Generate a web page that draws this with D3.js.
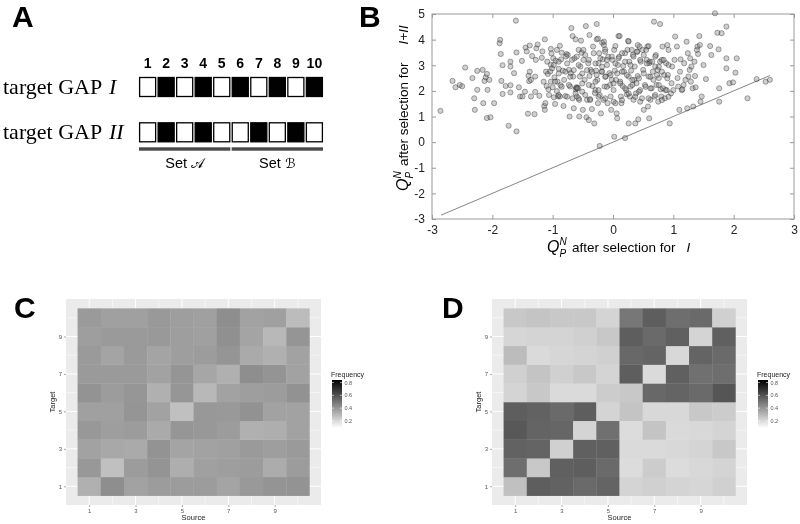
<!DOCTYPE html>
<html><head><meta charset="utf-8">
<script src="https://cdn.jsdelivr.net/npm/d3@7"></script>
<style>body{margin:0;background:#fff}svg{display:block;will-change:opacity;opacity:0.999}</style>
</head><body>
<svg id="fig" width="800" height="524"></svg>
<script>
// ---------- DATA ----------
const genes = ["1","2","3","4","5","6","7","8","9","10"];
const gapI  = [0,1,0,1,0,1,0,1,0,1];
const gapII = [0,1,0,1,0,0,1,0,1,0];
const sets = [{name:"Set ", script:"\uD835\uDC9C", from:"1", to:"5"}, {name:"Set ", script:"\u212C", from:"6", to:"10"}];

const bTicks = [-3,-2,-1,0,1,2,3];
const bYTicks = [-3,-2,-1,0,1,2,3,4,5];
const scatterX = [-2.86,-2.66,-2.61,-2.54,-2.50,-2.45,-2.33,-2.29,-2.30,-2.25,-2.25,-2.16,-2.15,-2.13,-2.11,-2.09,-2.08,-2.09,-2.03,-2.05,-1.97,-1.88,-1.87,-1.86,-1.83,-1.85,-1.83,-1.78,-1.73,-1.70,-1.70,-1.70,-1.70,-1.64,-1.61,-1.60,-1.60,-1.56,-1.54,-1.51,-1.50,-1.46,-1.45,-1.43,-1.41,-1.40,-1.39,-1.38,-1.38,-1.36,-1.36,-1.34,-1.30,-1.29,-1.29,-1.27,-1.28,-1.25,-1.22,-1.18,-1.17,-1.15,-1.14,-1.13,-1.13,-1.12,-1.11,-1.10,-1.09,-1.08,-1.07,-1.06,-1.04,-1.03,-1.03,-1.03,-1.02,-1.01,-1.00,-0.99,-0.98,-0.97,-0.96,-0.95,-0.93,-0.92,-0.91,-0.90,-0.88,-0.88,-0.87,-0.86,-0.83,-0.82,-0.81,-0.79,-0.77,-0.75,-0.73,-0.72,-0.71,-0.70,-0.69,-0.67,-0.67,-0.66,-0.65,-0.64,-0.62,-0.62,-0.61,-0.60,-0.59,-0.58,-0.57,-0.56,-0.56,-0.55,-0.54,-0.52,-0.51,-0.50,-0.49,-0.47,-0.45,-0.44,-0.43,-0.41,-0.40,-0.39,-0.39,-0.38,-0.37,-0.35,-0.34,-0.33,-0.31,-0.30,-0.29,-0.28,-0.27,-0.27,-0.26,-0.25,-0.24,-0.23,-0.22,-0.20,-0.19,-0.18,-0.17,-0.16,-0.15,-0.14,-0.13,-0.12,-0.10,-0.09,-0.08,-0.06,-0.05,-0.04,-0.03,-0.02,-0.01,0.01,0.02,0.03,0.04,0.05,0.06,0.07,0.08,0.09,0.10,0.12,0.13,0.14,0.16,0.17,0.18,0.20,0.22,0.23,0.24,0.25,0.26,0.26,0.27,0.28,0.29,0.30,0.31,0.33,0.34,0.35,0.36,0.37,0.38,0.39,0.40,0.41,0.42,0.44,0.45,0.46,0.48,0.49,0.50,0.51,0.53,0.55,0.56,0.57,0.58,0.59,0.60,0.60,0.61,0.62,0.64,0.66,0.67,0.68,0.69,0.70,0.71,0.72,0.74,0.75,0.76,0.78,0.78,0.79,0.80,0.81,0.82,0.83,0.85,0.86,0.88,0.89,0.91,0.92,0.94,0.96,0.97,0.98,1.00,1.02,1.03,1.06,1.07,1.08,1.10,1.11,1.12,1.14,1.15,1.17,1.18,1.20,1.22,1.23,1.24,1.25,1.27,1.28,1.29,1.30,1.32,1.33,1.35,1.36,1.37,1.39,1.40,1.41,1.43,1.44,1.45,1.47,1.50,1.54,1.61,1.63,1.69,1.73,1.75,1.76,1.76,1.80,1.88,1.88,1.88,1.93,1.99,2.03,2.05,2.23,2.38,2.53,2.60,-0.22,0.02,0.20,
-0.93,-0.85,-0.78,-0.90,-0.98,-0.76,-0.68,-0.60,-0.57,-0.49,-0.46,-0.40,-0.32,-0.29,-0.21,-0.18,-0.13,-0.10,-0.02,0.04,0.09,0.15,0.20,0.29,0.34,0.40,0.45,0.51,0.56,0.65,0.70,0.76,0.84,0.92,-0.90,-0.79,-0.71,-0.65,-0.51,-0.43,-0.35,-0.27,-0.18,-0.13,-0.04,0.07,0.15,0.23,0.32,0.43,0.51,0.62,0.73,0.81,0.90,-0.96,-0.85,-0.73,-0.60,-0.51,-0.40,-0.29,-0.24,-0.10,0.01,0.12,0.20,0.32,0.43,0.54,0.62,0.76,0.87,-0.90,-0.76,-0.62,-0.57,-0.46,-0.38,-0.24,-0.13,0.01,0.15,0.26,0.37,0.45,0.59,0.70,0.81,0.92,-0.53,-0.25,-0.15,0.04,0.11,0.26,0.41,0.59,0.90];
const scatterY = [1.22,2.39,2.14,2.23,2.18,2.91,2.50,1.26,1.71,2.04,2.78,2.82,1.52,2.39,2.53,2.66,2.04,0.94,0.97,2.43,1.52,3.86,3.99,3.44,3.00,2.39,1.88,2.19,0.64,3.14,2.95,2.22,1.94,2.69,4.74,3.50,0.42,2.14,1.78,3.17,1.78,1.97,3.69,3.54,1.11,2.59,2.38,3.77,2.75,2.43,1.78,3.36,1.09,2.56,1.96,3.66,3.21,3.81,1.81,3.29,3.54,2.36,1.41,1.26,4.01,1.52,2.75,2.19,3.14,2.66,2.06,1.84,2.76,3.64,3.02,2.36,3.46,2.88,2.14,3.27,1.75,2.53,1.49,3.18,1.99,2.36,1.78,2.86,3.76,1.78,2.22,3.23,2.79,1.41,2.43,1.80,3.44,3.40,2.82,1.00,2.17,2.69,4.45,4.14,1.71,2.56,1.32,3.27,4.01,2.06,2.14,1.78,2.13,2.10,3.60,1.65,1.00,2.56,2.95,3.49,1.97,1.26,3.21,2.43,4.53,0.97,1.65,3.08,0.86,2.58,4.18,1.68,2.82,1.29,2.19,3.73,0.73,1.92,2.03,2.79,4.61,4.01,2.43,1.52,3.08,3.47,1.84,1.12,2.75,3.88,3.23,1.65,3.79,2.17,3.62,2.56,3.01,1.52,3.33,2.69,2.23,1.78,1.26,2.43,3.21,2.03,3.60,2.79,1.52,2.43,1.12,0.93,3.01,4.14,3.33,2.36,1.78,1.52,2.19,2.97,2.75,3.47,2.03,1.86,3.60,3.95,2.56,0.73,3.14,1.78,2.17,2.79,3.60,3.40,1.65,2.43,2.95,0.73,1.90,2.30,3.53,2.58,0.89,3.73,2.03,3.14,1.71,3.60,2.82,1.26,2.23,3.60,3.21,3.73,1.39,2.56,3.08,0.93,3.14,1.65,2.10,2.75,2.43,4.70,1.78,2.95,3.40,2.23,2.82,1.58,2.50,4.61,3.14,2.06,1.78,3.21,3.73,2.10,2.62,1.71,3.08,2.03,2.62,3.60,0.73,1.90,2.30,2.95,2.03,3.21,4.12,3.73,2.50,2.17,1.26,2.75,3.23,2.03,2.06,2.23,3.08,2.43,3.92,1.32,3.47,2.56,2.82,3.27,2.36,2.95,2.10,1.39,3.14,2.58,2.14,3.60,3.73,3.44,4.14,3.79,1.58,1.78,3.01,2.46,3.75,3.40,5.03,4.27,3.62,2.10,1.58,4.25,4.51,3.27,2.88,2.30,2.33,2.71,3.27,1.71,2.46,2.36,2.43,-0.15,0.21,0.16,
3.60,3.49,3.34,3.14,3.01,3.07,3.21,3.34,3.01,3.60,3.40,3.21,3.47,3.07,3.27,2.94,3.53,3.21,3.34,3.07,3.27,3.47,3.14,3.01,3.34,3.53,3.21,3.40,3.07,3.14,3.34,2.94,3.21,3.01,2.68,2.75,2.55,2.81,2.68,2.81,2.75,2.62,2.75,2.55,2.62,2.68,2.75,2.62,2.42,2.49,2.68,2.55,2.62,2.75,2.49,2.36,2.16,2.23,2.10,2.29,2.23,2.36,2.03,2.16,2.29,2.29,2.10,2.23,1.97,2.16,2.10,2.23,2.03,1.84,1.77,1.90,1.71,1.84,1.64,1.77,1.71,1.58,1.64,1.90,1.77,1.58,1.71,1.84,1.64,1.77,3.96,4.04,3.92,3.75,4.14,3.93,3.79,3.75,3.79];
const diagLine = [-2.85, 2.6];

const heatTicks = [1,3,5,7,9];
const legendTicks = [0.2,0.4,0.6,0.8];
// rows: Target 1..10 ; columns: Source 1..10
const heatC = [
 [0.322,0.422,0.364,0.381,0.381,0.381,0.358,0.390,0.405,0.408],
 [0.393,0.275,0.381,0.405,0.328,0.369,0.375,0.381,0.334,0.381],
 [0.364,0.346,0.340,0.408,0.358,0.364,0.369,0.387,0.375,0.387],
 [0.393,0.375,0.381,0.340,0.399,0.393,0.381,0.322,0.328,0.364],
 [0.369,0.369,0.402,0.364,0.275,0.393,0.390,0.411,0.364,0.364],
 [0.408,0.381,0.399,0.322,0.399,0.299,0.364,0.375,0.381,0.411],
 [0.387,0.387,0.387,0.364,0.402,0.352,0.322,0.422,0.405,0.364],
 [0.387,0.358,0.387,0.358,0.375,0.381,0.402,0.340,0.322,0.364],
 [0.375,0.387,0.387,0.390,0.375,0.369,0.416,0.358,0.299,0.402],
 [0.387,0.369,0.369,0.390,0.375,0.369,0.422,0.364,0.369,0.287]];
const heatD = [
 [0.275,0.564,0.552,0.528,0.546,0.216,0.228,0.216,0.211,0.228],
 [0.517,0.252,0.558,0.564,0.528,0.193,0.240,0.193,0.205,0.216],
 [0.552,0.546,0.228,0.558,0.558,0.199,0.199,0.205,0.216,0.252],
 [0.581,0.546,0.540,0.216,0.511,0.193,0.264,0.199,0.205,0.216],
 [0.564,0.552,0.528,0.564,0.216,0.264,0.205,0.205,0.252,0.240],
 [0.216,0.252,0.199,0.199,0.240,0.252,0.534,0.546,0.528,0.590],
 [0.228,0.264,0.228,0.252,0.216,0.564,0.199,0.558,0.511,0.517],
 [0.287,0.199,0.211,0.216,0.228,0.534,0.546,0.205,0.546,0.528],
 [0.211,0.216,0.216,0.228,0.252,0.564,0.528,0.558,0.216,0.558],
 [0.252,0.264,0.252,0.252,0.216,0.490,0.564,0.517,0.528,0.228]];

// ---------- DRAW ----------
const svg = d3.select("#fig");
const SANS = "'Liberation Sans', Arial, Helvetica, sans-serif";
const SERIF = "'Liberation Serif', 'Times New Roman', serif";

function panelLabel(t, x, y){
  svg.append("text").attr("x",x).attr("y",y).text(t)
    .attr("font-family",SANS).attr("font-weight","bold").attr("font-size",30).attr("fill","#000");
}
panelLabel("A",12,27); panelLabel("B",359,27); panelLabel("C",14,318); panelLabel("D",442,318);

// ----- Panel A -----
const gA = svg.append("g");
const xb = d3.scaleBand().domain(genes).range([139,323]).paddingInner(0.07);
gA.selectAll("text.num").data(genes).join("text")
  .attr("x",d=>xb(d)+xb.bandwidth()/2).attr("y",68).attr("text-anchor","middle")
  .attr("font-family",SANS).attr("font-weight","bold").attr("font-size",14).text(d=>d);
const rows = [{lab:"I", pat:gapI, y:77.5},{lab:"II", pat:gapII, y:122.8}];
rows.forEach(r=>{
  const t = gA.append("text").attr("x",3).attr("y",r.y+16.5).attr("font-family",SERIF).attr("font-size",22);
  t.append("tspan").text("target GAP ");
  t.append("tspan").attr("font-style","italic").attr("dx",2).text(r.lab);
  gA.selectAll(null).data(genes).join("rect")
    .attr("x",d=>xb(d)+0.6).attr("y",r.y).attr("width",xb.bandwidth()-1.2).attr("height",19)
    .attr("fill",(d,i)=>r.pat[i]?"#000":"#fff").attr("stroke","#000").attr("stroke-width",1.3);
});
sets.forEach(s=>{
  const x0 = xb(s.from), x1 = xb(s.to)+xb.bandwidth();
  gA.append("rect").attr("x",x0).attr("y",147.3).attr("width",x1-x0).attr("height",3.4).attr("fill","#4a4a4a");
  const t = gA.append("text").attr("x",(x0+x1)/2).attr("y",168).attr("text-anchor","middle")
    .attr("font-family",SANS).attr("font-size",14.5);
  t.append("tspan").text(s.name);
  t.append("tspan").attr("font-family","'DejaVu Serif', 'DejaVu Sans', serif").attr("font-size",13.5).text(s.script);
});

// ----- Panel B -----
const bx = d3.scaleLinear().domain([-3,3]).range([432,794]);
const by = d3.scaleLinear().domain([-3,5]).range([219,14]);
const gB = svg.append("g");
gB.append("rect").attr("x",432).attr("y",14).attr("width",362).attr("height",205)
  .attr("fill","none").attr("stroke","#9a9a9a").attr("stroke-width",1);
function styleAxis(g){
  g.select(".domain").remove();
  g.selectAll(".tick line").attr("stroke","#9a9a9a");
  g.selectAll(".tick text").attr("fill","#222").attr("font-family",SANS).attr("font-size",12);
}
const fmt = d => String(d);
gB.append("g").attr("transform","translate(0,219)")
  .call(d3.axisBottom(bx).tickValues(bTicks).tickSize(-4).tickPadding(6).tickFormat(fmt)).call(styleAxis);
gB.append("g").attr("transform","translate(0,14)")
  .call(d3.axisTop(bx).tickValues(bTicks).tickSize(-4).tickFormat("")).call(styleAxis);
gB.append("g").attr("transform","translate(432,0)")
  .call(d3.axisLeft(by).tickValues(bYTicks).tickSize(-4).tickPadding(7).tickFormat(fmt)).call(styleAxis);
gB.append("g").attr("transform","translate(794,0)")
  .call(d3.axisRight(by).tickValues(bYTicks).tickSize(-4).tickFormat("")).call(styleAxis);
gB.append("line").attr("x1",bx(diagLine[0])).attr("y1",by(diagLine[0])).attr("x2",bx(diagLine[1])).attr("y2",by(diagLine[1]))
  .attr("stroke","#777").attr("stroke-width",0.9);
const pts = scatterX.map((x,i)=>[x,scatterY[i]]);
gB.append("g").selectAll("circle").data(pts).join("circle")
  .attr("cx",d=>bx(d[0])).attr("cy",d=>by(d[1])).attr("r",2.6)
  .attr("fill","#7a7a7a").attr("fill-opacity",0.36)
  .attr("stroke","#000").attr("stroke-opacity",0.45).attr("stroke-width",0.7);

function qLabel(parent, tail, fs, gap){
  const g = parent.append("g");
  g.append("text").attr("x",0).attr("y",0).attr("font-family",SANS).attr("font-style","italic").attr("font-size",fs+2.5).text("Q");
  g.append("text").attr("x",12.5).attr("y",-7).attr("font-family",SANS).attr("font-style","italic").attr("font-size",10).text("N");
  g.append("text").attr("x",12.5).attr("y",5).attr("font-family",SANS).attr("font-style","italic").attr("font-size",10).text("P");
  const mid = g.append("text").attr("x",25).attr("y",0).attr("font-family",SANS).attr("font-size",fs).text("after selection for");
  const w = mid.node().getComputedTextLength();
  g.append("text").attr("x",25+w+gap).attr("y",0).attr("font-family",SANS).attr("font-style","italic").attr("font-size",fs).text(tail);
  return g;
}
qLabel(gB,"I",13.5,11).attr("transform","translate(547,252)");
qLabel(gB,"I+II",13.5,18).attr("transform","translate(408,191) rotate(-90)");

// ----- Panels C, D -----
const heatColor = d3.scaleLinear().domain([0.09,0.84]).range(["#ffffff","#000000"]);
function heatPanel(data, dx, gid){
  const g = svg.append("g").attr("transform",`translate(${dx},0)`);
  const hx = d3.scaleLinear().domain([0,11]).range([66,321]);
  const hy = d3.scaleLinear().domain([0,11]).range([505,299]);
  g.append("rect").attr("x",66).attr("y",299).attr("width",255).attr("height",206).attr("fill","#ebebeb");
  const minor = d3.range(2,11,2);
  g.selectAll(null).data(minor).join("line").attr("x1",d=>hx(d)).attr("x2",d=>hx(d)).attr("y1",299).attr("y2",505).attr("stroke","#fff").attr("stroke-width",0.5);
  g.selectAll(null).data(minor).join("line").attr("y1",d=>hy(d)).attr("y2",d=>hy(d)).attr("x1",66).attr("x2",321).attr("stroke","#fff").attr("stroke-width",0.5);
  g.selectAll(null).data(heatTicks).join("line").attr("x1",d=>hx(d)).attr("x2",d=>hx(d)).attr("y1",299).attr("y2",505).attr("stroke","#fff").attr("stroke-width",1);
  g.selectAll(null).data(heatTicks).join("line").attr("y1",d=>hy(d)).attr("y2",d=>hy(d)).attr("x1",66).attr("x2",321).attr("stroke","#fff").attr("stroke-width",1);
  const cells = [];
  data.forEach((row,ti)=>row.forEach((v,si)=>cells.push({t:ti+1,s:si+1,v})));
  g.selectAll("rect.cell").data(cells).join("rect")
    .attr("x",d=>hx(d.s-0.5)).attr("y",d=>hy(d.t+0.5))
    .attr("width",hx(1)-hx(0)+0.3).attr("height",hy(0)-hy(1)+0.3)
    .attr("fill",d=>heatColor(d.v));
  const ax = g.append("g").attr("transform","translate(0,505)")
    .call(d3.axisBottom(hx).tickValues(heatTicks).tickSize(2).tickPadding(2));
  const ay = g.append("g").attr("transform","translate(66,0)")
    .call(d3.axisLeft(hy).tickValues(heatTicks).tickSize(2).tickPadding(2));
  [ax,ay].forEach(a=>{
    a.select(".domain").remove();
    a.selectAll(".tick line").attr("stroke","#555").attr("stroke-width",0.5);
    a.selectAll(".tick text").attr("fill","#555").attr("font-family",SANS).attr("font-size",6);
  });
  g.append("text").attr("x",hx(5.5)).attr("y",520).attr("text-anchor","middle").attr("font-family",SANS).attr("font-size",7.5).attr("fill","#222").text("Source");
  g.append("text").attr("transform",`translate(55,${hy(5.5)}) rotate(-90)`).attr("text-anchor","middle").attr("font-family",SANS).attr("font-size",7.5).attr("fill","#222").text("Target");
  // legend
  const ls = d3.scaleLinear().domain([0.09,0.84]).range([428,380]);
  const defs = svg.append("defs");
  const grad = defs.append("linearGradient").attr("id",gid).attr("x1",0).attr("x2",0).attr("y1",1).attr("y2",0);
  d3.range(0,1.0001,0.1).forEach(f=>grad.append("stop").attr("offset",f).attr("stop-color",heatColor(0.09+f*0.75)));
  g.append("text").attr("x",331).attr("y",377).attr("font-family",SANS).attr("font-size",7).attr("fill","#222").text("Frequency");
  g.append("rect").attr("x",332).attr("y",380).attr("width",10).attr("height",48).attr("fill",`url(#${gid})`);
  g.selectAll(null).data(legendTicks).join("line").attr("x1",332).attr("x2",334).attr("y1",d=>ls(d)).attr("y2",d=>ls(d)).attr("stroke","#fff").attr("stroke-width",0.6);
  g.selectAll(null).data(legendTicks).join("line").attr("x1",340).attr("x2",342).attr("y1",d=>ls(d)).attr("y2",d=>ls(d)).attr("stroke","#fff").attr("stroke-width",0.6);
  g.selectAll(null).data(legendTicks).join("text").attr("x",344.5).attr("y",d=>ls(d)+2).attr("font-family",SANS).attr("font-size",5.5).attr("fill","#555").text(d=>d.toFixed(1));
}
heatPanel(heatC, 0, "gC");
heatPanel(heatD, 426, "gD");
</script>
</body></html>
